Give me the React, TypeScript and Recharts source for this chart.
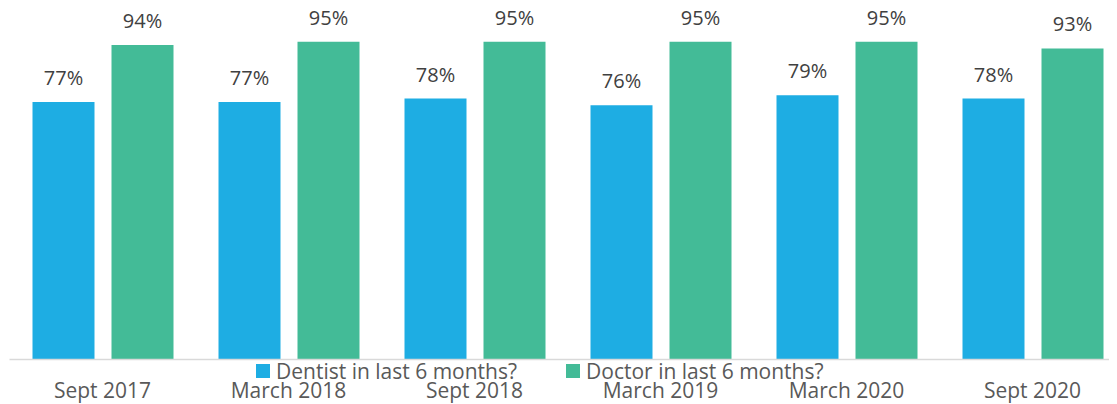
import React from "react";
import { BarChart, Bar, XAxis, YAxis, LabelList, Legend } from "recharts";

const categories = ["Sept 2017", "March 2018", "Sept 2018", "March 2019", "March 2020", "Sept 2020"];
const dentist = [77, 77, 78, 76, 79, 78];
const doctor = [94, 95, 95, 95, 95, 93];
const seriesNames = ["Dentist in last 6 months?", "Doctor in last 6 months?"];
const colors = ["#1EADE3", "#43BB97"];

const data = categories.map((c, i) => ({ name: c, dentist: dentist[i], doctor: doctor[i] }));

const FONT = "'Open Sans', sans-serif";

const LegendContent = () => (
  <div style={{ display: "flex", alignItems: "center", fontFamily: FONT, fontSize: 21, color: "#595959", whiteSpace: "nowrap", lineHeight: "20px" }}>
    {seriesNames.map((n, i) => (
      <div key={n} style={{ display: "flex", alignItems: "center", marginRight: i === 0 ? 49 : 0 }}>
        <span style={{ display: "inline-block", width: 14, height: 14, background: colors[i], marginRight: 6 }} />
        <span>{n}</span>
      </div>
    ))}
  </div>
);

export default function App() {
  return (
    <div style={{ margin: "-8px 0 0 -8px", width: 1117, height: 404, overflow: "hidden", background: "#fff" }}>
      <BarChart
        width={1130}
        height={404}
        data={data}
        margin={{ top: 25, right: 4.5, bottom: 0, left: 9.5 }}
        barCategoryGap={23}
        barGap={17}
      >
        <YAxis hide domain={[0, 100]} />
        <XAxis
          dataKey="name"
          height={44.5}
          tickLine={false}
          axisLine={{ stroke: "#D9D9D9", strokeWidth: 1.5 }}
          tick={{ fill: "#595959", fontSize: 21, fontFamily: FONT }}
          tickMargin={18}
          interval={0}
        />
        <Legend
          layout="horizontal"
          verticalAlign="middle"
          align="center"
          content={<LegendContent />}
          wrapperStyle={{ position: "absolute", left: 256, top: 361, width: "auto", bottom: "auto" }}
        />
        <Bar dataKey="dentist" fill={colors[0]} isAnimationActive={false}>
          <LabelList dataKey="dentist" position="top" offset={17} formatter={(v: any) => `${v}%`} style={{ fill: "#404040", fontSize: 20, fontFamily: FONT }} />
        </Bar>
        <Bar dataKey="doctor" fill={colors[1]} isAnimationActive={false}>
          <LabelList dataKey="doctor" position="top" offset={17} formatter={(v: any) => `${v}%`} style={{ fill: "#404040", fontSize: 20, fontFamily: FONT }} />
        </Bar>
      </BarChart>
    </div>
  );
}
